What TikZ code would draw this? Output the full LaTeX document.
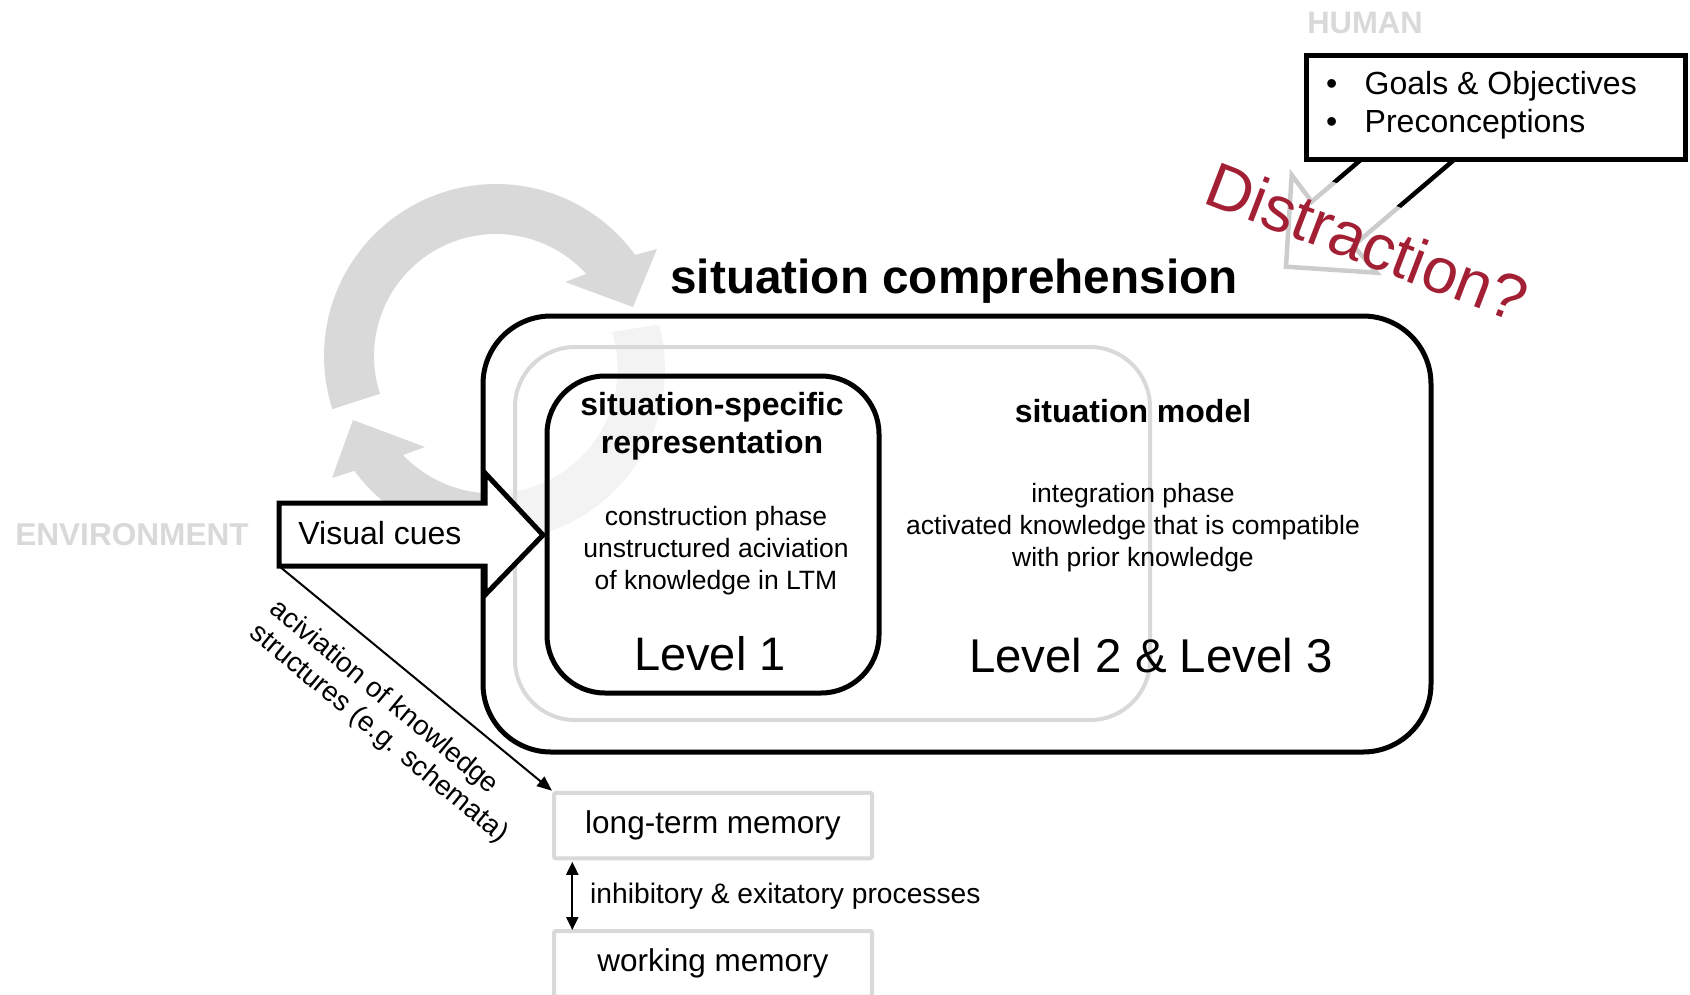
\documentclass[tikz,border=0pt]{standalone}
\usepackage{fontspec}
\setmainfont{Liberation Sans}
\usetikzlibrary{arrows.meta,calc}
\definecolor{lgray}{RGB}{217,217,217}
\definecolor{ringgray}{RGB}{217,217,217}
\definecolor{distred}{RGB}{163,31,52}
\newcommand\fsz[2]{\fontsize{#1}{#2}\selectfont}

\begin{document}
\begin{tikzpicture}[x=1pt,y=-1pt,
  lbl/.style={inner sep=0pt, anchor=base},
  blackframe/.style={draw, line width=5pt},
  grayframe/.style={draw=lgray, line width=4pt},
  memframe/.style={grayframe, rounded corners=2pt, minimum width=318pt, inner sep=0pt, font=\fsz{31.5}{38}},
  thinarrow/.style={line width=2pt}]

\useasboundingbox (0,0) rectangle (1690,994);

% cycle arrows behind the comprehension frame
\fill[ringgray] plot[domain=162:324,samples=90] ({496+172*cos(\x)},{356+172*sin(\x)})
  -- (657,249) -- (633,307) -- (565,282)
  -- plot[domain=317.7:162,samples=90] ({496+122*cos(\x)},{356+122*sin(\x)}) -- cycle;
\fill[ringgray] plot[domain=-15:143.7,samples=90] ({493+172*cos(\x)},{369+172*sin(\x)})
  -- (332,478) -- (353,420) -- (425,447)
  -- plot[domain=136.3:-17.3,samples=90] ({493+124.5*cos(\x)},{369+124.5*sin(\x)}) -- cycle;

% frames
\node[blackframe, rounded corners=68pt, fill=white, fill opacity=0.7, draw opacity=1,
      minimum width=948pt, minimum height=436pt, inner sep=0pt] (sc) at (957,534) {};
\node[grayframe, rounded corners=60pt, minimum width=635pt, minimum height=373pt, inner sep=0pt] (sm) at (832.5,533.5) {};
\node[blackframe, rounded corners=58pt, minimum width=332pt, minimum height=317pt, inner sep=0pt] (l1) at (713,534.5) {};

% visual cues block arrow
\draw[line width=5pt, fill=white, line join=miter]
  (279,503) coordinate (vcnw) -- (485,503) -- (485,473) -- (543,535) coordinate (vctip)
  -- (485,595) -- (485,566) -- (279,566) coordinate (vcsw) -- cycle;
\node[lbl, font=\fsz{32}{38}] (vc) at (380,544) {Visual cues};
\node[lbl, font=\fsz{31.6}{37}\bfseries, text=lgray] (env) at (132,545) {ENVIRONMENT};

% headings and level texts
\node[lbl, font=\fsz{47.7}{57}\bfseries] (title) at (954,293) {situation comprehension};

\node[lbl, font=\fsz{32}{38}\bfseries] (ssr) at (712,415)
  {\begin{tabular}[t]{@{}c@{}}situation-specific\\representation\end{tabular}};
\node[lbl, font=\fsz{26.5}{32}] (constr) at (716,525)
  {\begin{tabular}[t]{@{}c@{}}construction phase\\unstructured aciviation\\of knowledge in LTM\end{tabular}};
\node[lbl, font=\fsz{47}{56}] (lev1) at (710,670) {Level 1};

\node[lbl, font=\fsz{32}{38}\bfseries] (smt) at (1133,422) {situation model};
\node[lbl, font=\fsz{26.5}{32}] (integ) at (1133,502)
  {\begin{tabular}[t]{@{}c@{}}integration phase\\activated knowledge that is compatible\\with prior knowledge\end{tabular}};
\node[lbl, font=\fsz{47.4}{56}] (lev23) at (1151,672) {Level 2 \& Level 3};

% memory boxes
\node[memframe, minimum height=65.5pt] (ltm) at (713,825.5) {long-term memory};
\node[memframe, minimum height=65.6pt] (wm) at (713,963.8) {working memory};

\draw[thinarrow, -{Triangle[length=15pt,width=12pt]}] (vcsw) -- (ltm.north west);
\node[inner sep=0pt, anchor=base west, rotate=-39.6, font=\fsz{27.8}{31.5}] (act) at (268.3,611.3)
  {\begin{tabular}[t]{@{}l@{}}aciviation of knowledge\\structures (e.g. schemata)\end{tabular}};

\draw[thinarrow, {Triangle[length=13pt,width=12pt]}-{Triangle[length=13pt,width=12pt]}]
  ([xshift=20.3pt,yshift=-1.5pt]ltm.south west) -- ([xshift=20.3pt,yshift=-1pt]wm.north west);
\node[lbl, anchor=base west, font=\fsz{28.2}{33}] (proc) at (590,903) {inhibitory \& exitatory processes};

% human side
\node[lbl, font=\fsz{31}{37}\bfseries, text=lgray] (human) at (1365,33) {HUMAN};
\node[blackframe, minimum width=379pt, minimum height=104pt, inner sep=0pt] (hb) at (1495.5,107) {};
\node[inner sep=0pt, anchor=base west, font=\fsz{32}{38.5}] (goals) at (1326,94)
  {\begin{tabular}[t]{@{}l@{}}\makebox[38.5pt][l]{•}Goals \& Objectives\\\makebox[38.5pt][l]{•}Preconceptions\end{tabular}};

% hollow arrow from the human box
\draw[line width=4.5pt, line join=miter]
  (1361.7,159) -- (1311.7,201.7) -- (1291.7,175) -- (1286,266.7)
  -- (1376.7,272.7) -- (1353.3,245.7) -- (1455,159);

\node[rotate=-21, anchor=base west, inner xsep=12pt, inner ysep=20pt, text depth=16pt,
      fill=white, fill opacity=0.8, text opacity=1, text=distred, font=\fsz{64}{72}]
  (dist) at (1190,198) {Distraction?};

\end{tikzpicture}
\end{document}
